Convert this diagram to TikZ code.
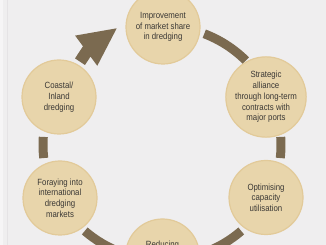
\documentclass[tikz,border=0pt]{standalone}
\usepackage{fontspec}
\setmainfont{Liberation Sans}[FakeStretch=0.87]
\usetikzlibrary{calc}
\definecolor{bg}{HTML}{EFEEEF}
\definecolor{edgecol}{HTML}{F6F5F6}
\definecolor{linecol}{HTML}{E5E3E5}
\definecolor{bubblefill}{HTML}{E8D5AB}
\definecolor{bubblerim}{HTML}{E2CA99}
\definecolor{arccol}{HTML}{7B6A50}
\definecolor{textcol}{HTML}{3A3835}
\begin{document}
\begin{tikzpicture}[x=1pt,y=-1pt,
  bubble/.style={circle, minimum size=74pt, inner sep=0pt, fill=bubblefill, draw=bubblerim, line width=1.2pt, text=textcol, align=center, font=\fontsize{9}{10.7}\selectfont},
  lbl/.style={text=textcol, align=center, font=\fontsize{9}{10.7}\selectfont, inner sep=0pt},
  ringarc/.style={draw=arccol, line width=9pt}]
\useasboundingbox (0,0) rectangle (326,245);
\clip (0,0) rectangle (326,245);
\fill[bg] (0,0) rectangle (326,245);
\fill[edgecol] (0,0) rectangle (2.5,245);
\draw[linecol, line width=0.6pt] (7,0) -- (7,245);
\coordinate (ring) at (162,145);
\coordinate (lowring) at (163,140);
% arcs of the cycle
\draw[ringarc] ($(ring)+(-69.2:119)$) arc[start angle=-69.2, end angle=-45.2, radius=119];
\draw[ringarc] ($(ring)+(-3.9:119)$) arc[start angle=-3.9, end angle=6.3, radius=119];
\draw[ringarc] ($(lowring)+(49.3:120)$) arc[start angle=49.3, end angle=70, radius=120];
\draw[ringarc] ($(lowring)+(110:120)$) arc[start angle=110, end angle=130.7, radius=120];
\draw[ringarc] ($(ring)+(173.7:119)$) arc[start angle=173.7, end angle=183.9, radius=119];
% arrow from Coastal to Improvement
\fill[arccol] (116.7,28.3) -- (75.1,35.6) -- (83,46.3) -- (75,58.4) -- (85,65) -- (90.5,56.6) -- (97.3,65.8) -- cycle;
% bubbles
\node[bubble] (imp) at (163,27) {Improvement\\of market share\\in dredging};
\node[bubble] (str) at (266,97) {Strategic\\alliance\\through long-term\\contracts with\\major ports};
\node[bubble] (opt) at (266,197.5) {Optimising\\capacity\\utilisation};
\node[bubble] (red) at (162.5,256) {};
\node[lbl] (redtxt) at (162.5,245.6) {Reducing};
\node[bubble] (for) at (60,198) {Foraying into\\international\\dredging\\markets};
\node[bubble] (coa) at (59,97) {Coastal/\\Inland\\dredging};
\end{tikzpicture}
\end{document}
